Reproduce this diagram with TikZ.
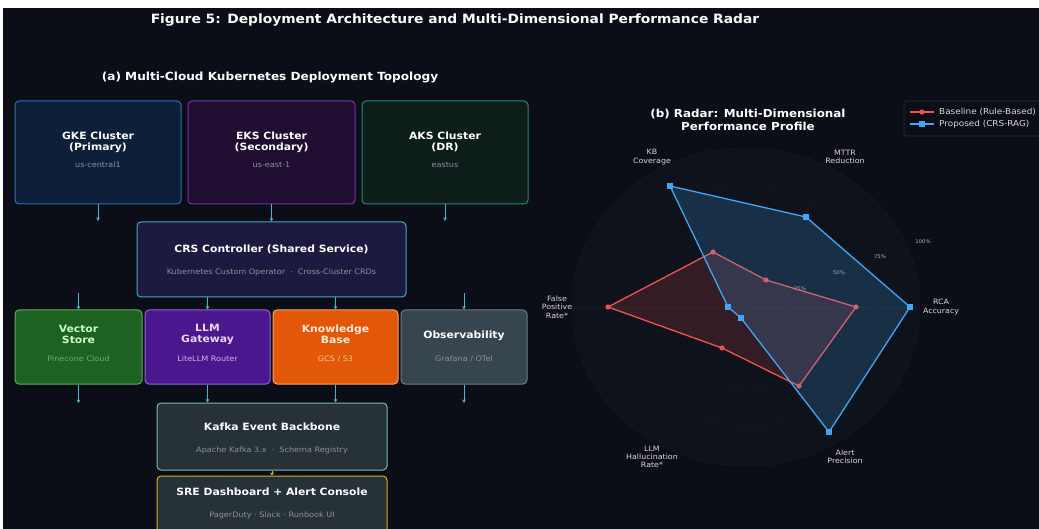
\documentclass[tikz,border=0pt]{standalone}
\usepackage{fontspec}
\setmainfont{DejaVu Sans}[FakeStretch=1.08]
\usetikzlibrary{arrows.meta}
\definecolor{bg}{HTML}{0B0E17}
\definecolor{gkef}{HTML}{0E2039}
\definecolor{gkel}{HTML}{2F6DB5}
\definecolor{eksf}{HTML}{1F0E31}
\definecolor{eksl}{HTML}{7A2FA8}
\definecolor{aksf}{HTML}{0D1D19}
\definecolor{aksl}{HTML}{2A8A70}
\definecolor{crsf}{HTML}{1C1A40}
\definecolor{crsl}{HTML}{46AAB8}
\definecolor{vecf}{HTML}{1E6222}
\definecolor{vecl}{HTML}{6AA86A}
\definecolor{llmf}{HTML}{4A178E}
\definecolor{llml}{HTML}{8E6AD0}
\definecolor{kbf}{HTML}{E25808}
\definecolor{kbl}{HTML}{F2A468}
\definecolor{obsf}{HTML}{37464E}
\definecolor{obsl}{HTML}{6C7C86}
\definecolor{kaff}{HTML}{263238}
\definecolor{kafl}{HTML}{7FB8B0}
\definecolor{srel}{HTML}{D4B020}
\definecolor{conn}{HTML}{4FB3CF}
\definecolor{subgray}{HTML}{8E9298}
\definecolor{axtext}{HTML}{D8D8D8}
\definecolor{radbg}{HTML}{0E121B}
\definecolor{gridc}{HTML}{151A25}
\definecolor{redc}{HTML}{EF5350}
\definecolor{bluec}{HTML}{42A5F5}
\begin{document}
\begin{tikzpicture}[x=1pt,y=-1pt,
  box/.style={draw, rounded corners=4pt, line width=1pt, inner sep=0pt},
  ttl/.style={font=\bfseries\fontsize{10}{11}\selectfont, text=white, align=center, inner sep=0pt},
  sub/.style={font=\fontsize{7.5}{8.5}\selectfont, text=subgray, inner sep=0pt},
  stub/.style={draw=conn, line width=1pt, -{Stealth[length=3.5pt,width=3.5pt]}},
  axl/.style={font=\fontsize{7.3}{8.3}\selectfont, text=axtext, align=center, inner sep=0pt},
  pct/.style={font=\fontsize{5}{6}\selectfont, text=subgray!70, inner sep=0pt},
  gridl/.style={draw=gridc, line width=0.5pt},
  leg/.style={font=\fontsize{8.2}{9}\selectfont, text=axtext, anchor=west, inner sep=0pt}
]
\useasboundingbox (0,0) rectangle (1039,529);
\clip (0,0) rectangle (1039,529);
\fill[white] (0,0) rectangle (1039,529);
\fill[bg] (3,8) rectangle (1039,529);

% titles
\node[font=\bfseries\fontsize{12.8}{14}\selectfont, text=white] (title) at (455,20) {Figure 5: Deployment Architecture and Multi-Dimensional Performance Radar};
\node[font=\bfseries\fontsize{11.2}{12}\selectfont, text=white] (suba) at (270,77) {(a) Multi-Cloud Kubernetes Deployment Topology};

% row 1
\node[box, fill=gkef, draw=gkel, minimum width=166pt, minimum height=103pt] (gke) at (98,152.5) {};
\node[ttl] (gket) at (98,142) {GKE Cluster\\(Primary)};
\node[sub] (gkes) at (98,165) {us-central1};
\node[box, fill=eksf, draw=eksl, minimum width=167pt, minimum height=103pt] (eks) at (271.5,152.5) {};
\node[ttl] (ekst) at (271.5,142) {EKS Cluster\\(Secondary)};
\node[sub] (ekss) at (271.5,165) {us-east-1};
\node[box, fill=aksf, draw=aksl, minimum width=166pt, minimum height=103pt] (aks) at (445,152.5) {};
\node[ttl] (akst) at (445,142) {AKS Cluster\\(DR)};
\node[sub] (akss) at (445,165) {eastus};

% CRS
\node[box, fill=crsf, draw=crsl, minimum width=269pt, minimum height=75pt] (crs) at (271.5,259.5) {};
\node[ttl] (crst) at (271.5,249) {CRS Controller (Shared Service)};
\node[sub] (crss) at (271.5,272) {Kubernetes Custom Operator \ · \ Cross-Cluster CRDs};

% row 2
\node[box, fill=vecf, draw=vecl, minimum width=127pt, minimum height=74pt] (vec) at (78.5,347) {};
\node[ttl, text=green!20!white] (vect) at (78.5,334) {Vector\\Store};
\node[sub, text=green!30!gray!90!white] (vecs) at (78.5,359) {Pinecone Cloud};
\node[box, fill=llmf, draw=llml, minimum width=125pt, minimum height=74pt] (llm) at (207.5,347) {};
\node[ttl, text=violet!15!white] (llmt) at (207.5,334) {LLM\\Gateway};
\node[sub, text=violet!30!white] (llms) at (207.5,359) {LiteLLM Router};
\node[box, fill=kbf, draw=kbl, minimum width=125pt, minimum height=74pt] (kb) at (335.5,347) {};
\node[ttl, text=orange!15!white] (kbt) at (335.5,334) {Knowledge\\Base};
\node[sub, text=orange!45!white] (kbs) at (335.5,359) {GCS / S3};
\node[box, fill=obsf, draw=obsl, minimum width=126pt, minimum height=74pt] (obs) at (464,347) {};
\node[ttl] (obst) at (464,336) {Observability};
\node[sub] (obss) at (464,359) {Grafana / OTel};

% Kafka and SRE
\node[box, fill=kaff, draw=kafl, minimum width=230pt, minimum height=67pt] (kaf) at (272,436.5) {};
\node[ttl] (kaft) at (272,427) {Kafka Event Backbone};
\node[sub] (kafs) at (272,450) {Apache Kafka 3.x \ · \ Schema Registry};
\node[box, fill=kaff, draw=srel, minimum width=230pt, minimum height=72pt] (sre) at (272,512) {};
\node[ttl] (sret) at (272,492) {SRE Dashboard + Alert Console};
\node[sub] (sres) at (272,515) {PagerDuty · Slack · Runbook UI};

% connectors
\coordinate (e1) at (98,221);
\coordinate (e3) at (445,221);
\draw[stub] (gke.south) -- (e1);
\draw[stub] (eks.south) -- (crs.north);
\draw[stub] (aks.south) -- (e3);
\coordinate (b1) at (78.5,293);
\coordinate (b4) at (464,293);
\draw[stub] (b1) -- (vec.north);
\draw[stub] (crs.south -| llm.north) -- (llm.north);
\draw[stub] (crs.south -| kb.north) -- (kb.north);
\draw[stub] (b4) -- (obs.north);
\coordinate (c1) at (78.5,403);
\coordinate (c4) at (464,403);
\draw[stub] (vec.south) -- (c1);
\draw[stub] (llm.south) -- (kaf.north -| llm.south);
\draw[stub] (kb.south) -- (kaf.north -| kb.south);
\draw[stub] (obs.south) -- (c4);
\draw[stub, draw=srel, -{Stealth[length=3pt,width=4pt]}] (kaf.south) -- (sre.north);

% radar
\coordinate (rc) at (746,307);
\fill[radbg] (rc) ellipse [x radius=174pt, y radius=159pt];
\foreach \f in {0.25,0.5,0.75,1.0}
  \draw[gridl] (rc) ellipse [x radius=\f*174pt, y radius=\f*159pt];
\foreach \a in {0,60,...,300}
  \draw[gridl] (rc) -- ++({174*cos(\a)},{-159*sin(\a)});
\node[pct] (p25) at (800,289) {25\%};
\node[pct] (p50) at (839,273) {50\%};
\node[pct] (p75) at (880,257) {75\%};
\node[pct] (p100) at (923,242) {100\%};

\node[font=\bfseries\fontsize{11}{12.5}\selectfont, text=white, align=center] (radt) at (748,120) {(b) Radar: Multi-Dimensional\\Performance Profile};

% baseline
\filldraw[fill=redc, fill opacity=0.17, draw=redc, line width=1.3pt, line join=round]
  (856,307) -- (766,280) -- (713,252) -- (608,307) -- (722,348) -- (799,386) -- cycle;
\foreach \p in {(856,307),(766,280),(713,252),(608,307),(722,348),(799,386)}
  \fill[redc] \p circle (2.6pt);
% proposed
\filldraw[fill=bluec, fill opacity=0.2, draw=bluec, line width=1.3pt, line join=round]
  (910,307) -- (806,217) -- (670,186) -- (728,307) -- (741,318) -- (829,432) -- cycle;
\foreach \p in {(910,307),(806,217),(670,186),(728,307),(741,318),(829,432)}
  \fill[bluec] \p ++(-3,-3) rectangle ++(6,6);

% axis labels
\node[axl] (lkb) at (652,157) {KB\\Coverage};
\node[axl] (lmttr) at (845,157) {MTTR\\Reduction};
\node[axl] (lrca) at (941,307) {RCA\\Accuracy};
\node[axl] (lfpr) at (557,307) {False\\Positive\\Rate*};
\node[axl] (lllm) at (652,457) {LLM\\Hallucination\\Rate*};
\node[axl] (lap) at (845,457) {Alert\\Precision};

% legend
\draw[draw=gridc!60!gray!60!bg, fill=bg, rounded corners=2pt, line width=0.6pt] (904,101) rectangle (1050,136);
\draw[redc, line width=1.3pt] (910,112) -- (934,112);
\fill[redc] (922,112) circle (2.6pt);
\node[leg] (lg1) at (939,112) {Baseline (Rule-Based)};
\draw[bluec, line width=1.3pt] (910,124) -- (934,124);
\fill[bluec] (919,121) rectangle (925,127);
\node[leg] (lg2) at (939,124) {Proposed (CRS-RAG)};
\end{tikzpicture}
\end{document}
